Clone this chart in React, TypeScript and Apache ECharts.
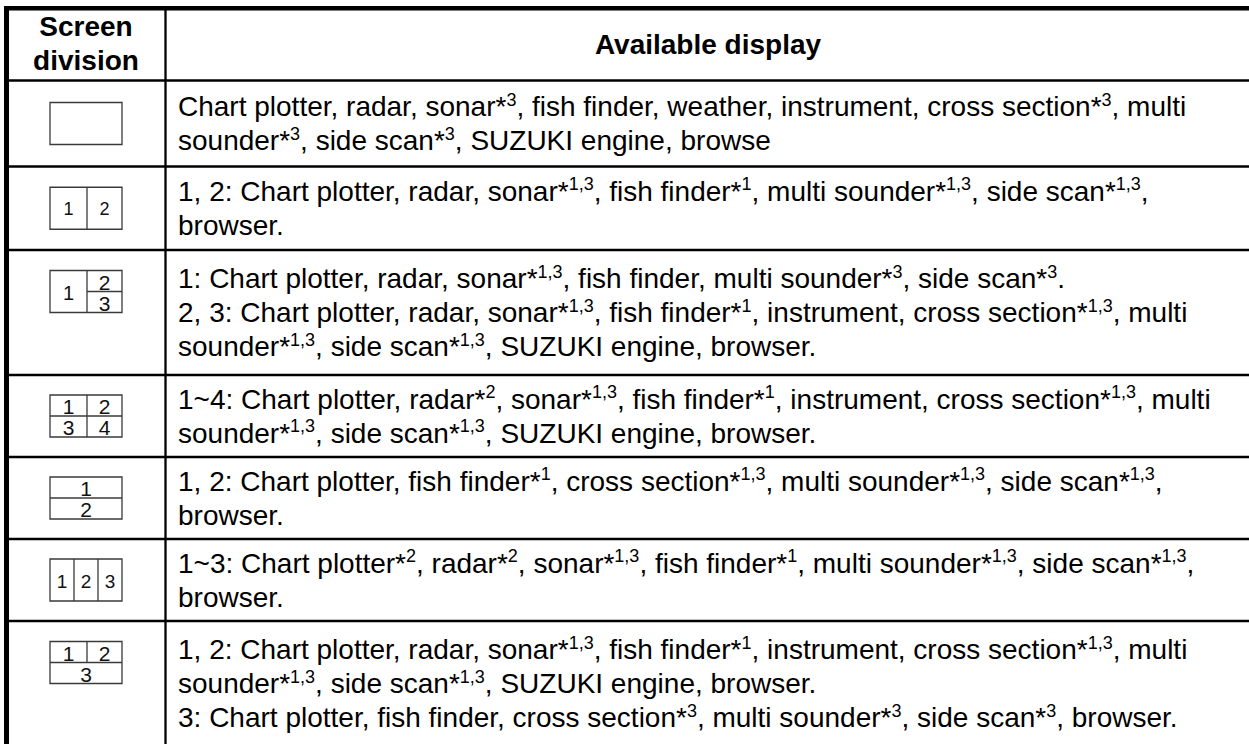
import React, { useEffect, useRef } from "react";
import * as echarts from "echarts";

const W = 1249;
const H = 744;

const headerLeft = ["Screen", "division"];
const headerRight = "Available display";

// {s|..} marks a superscript
const rowTexts: string[][] = [
  [
    "Chart plotter, radar, sonar*{s|3}, fish finder, weather, instrument, cross section*{s|3}, multi",
    "sounder*{s|3}, side scan*{s|3}, SUZUKI engine, browse",
  ],
  [
    "1, 2: Chart plotter, radar, sonar*{s|1,3}, fish finder*{s|1}, multi sounder*{s|1,3}, side scan*{s|1,3},",
    "browser.",
  ],
  [
    "1: Chart plotter, radar, sonar*{s|1,3}, fish finder, multi sounder*{s|3}, side scan*{s|3}.",
    "2, 3: Chart plotter, radar, sonar*{s|1,3}, fish finder*{s|1}, instrument, cross section*{s|1,3}, multi",
    "sounder*{s|1,3}, side scan*{s|1,3}, SUZUKI engine, browser.",
  ],
  [
    "1~4: Chart plotter, radar*{s|2}, sonar*{s|1,3}, fish finder*{s|1}, instrument, cross section*{s|1,3}, multi",
    "sounder*{s|1,3}, side scan*{s|1,3}, SUZUKI engine, browser.",
  ],
  [
    "1, 2: Chart plotter, fish finder*{s|1}, cross section*{s|1,3}, multi sounder*{s|1,3}, side scan*{s|1,3},",
    "browser.",
  ],
  [
    "1~3: Chart plotter*{s|2}, radar*{s|2}, sonar*{s|1,3}, fish finder*{s|1}, multi sounder*{s|1,3}, side scan*{s|1,3},",
    "browser.",
  ],
  [
    "1, 2: Chart plotter, radar, sonar*{s|1,3}, fish finder*{s|1}, instrument, cross section*{s|1,3}, multi",
    "sounder*{s|1,3}, side scan*{s|1,3}, SUZUKI engine, browser.",
    "3: Chart plotter, fish finder, cross section*{s|3}, multi sounder*{s|3}, side scan*{s|3}, browser.",
  ],
];

const rowIcons = ["single", "h2", "l1r2", "quad", "v2", "h3", "t2b1"];

// layout (pixels)
const ROW_HEIGHTS = [86, 83.5, 125, 82, 82, 82, 125];
const FONT = "'Liberation Sans', Arial, sans-serif";
const FS = 28;
const SUP = 18;
const PITCH = 34;
const HEADER_BOTTOM = 80.5;
const COL_X = 165.5;
const TEXT_X = 178;
const ICON_CX = 86;
const ICON_W = 72;
const ICON_H = 42;
const ICON_DIV_X = 87;

function iconElements(kind: string, cy: number): any[] {
  const x0 = ICON_CX - ICON_W / 2;
  const y0 = cy - ICON_H / 2;
  const x1 = x0 + ICON_W;
  const y1 = y0 + ICON_H;
  const ym = cy;
  const stroke = { stroke: "#3a3a3a", lineWidth: 1.3 };
  const els: any[] = [
    { type: "rect", shape: { x: x0, y: y0, width: ICON_W, height: ICON_H }, style: { fill: "#fff", ...stroke } },
  ];
  const ln = (ax: number, ay: number, bx: number, by: number) =>
    els.push({ type: "line", shape: { x1: ax, y1: ay, x2: bx, y2: by }, style: { ...stroke } });
  const num = (t: string, x: number, y: number, size: number) =>
    els.push({
      type: "text",
      style: { text: t, x, y, align: "center", verticalAlign: "middle", fontSize: size, fontFamily: FONT, fill: "#111" },
    });
  if (kind === "h2") {
    ln(ICON_DIV_X, y0, ICON_DIV_X, y1);
    num("1", (x0 + ICON_DIV_X) / 2, cy + 1, 18);
    num("2", (ICON_DIV_X + x1) / 2, cy + 1, 18);
  } else if (kind === "l1r2") {
    ln(ICON_DIV_X, y0, ICON_DIV_X, y1);
    ln(ICON_DIV_X, ym, x1, ym);
    num("1", (x0 + ICON_DIV_X) / 2, cy + 1, 20);
    num("2", (ICON_DIV_X + x1) / 2, (y0 + ym) / 2 + 1, 21);
    num("3", (ICON_DIV_X + x1) / 2, (ym + y1) / 2 + 1, 21);
  } else if (kind === "quad") {
    ln(ICON_DIV_X, y0, ICON_DIV_X, y1);
    ln(x0, ym, x1, ym);
    num("1", (x0 + ICON_DIV_X) / 2, (y0 + ym) / 2 + 1, 21);
    num("2", (ICON_DIV_X + x1) / 2, (y0 + ym) / 2 + 1, 21);
    num("3", (x0 + ICON_DIV_X) / 2, (ym + y1) / 2 + 1, 21);
    num("4", (ICON_DIV_X + x1) / 2, (ym + y1) / 2 + 1, 21);
  } else if (kind === "v2") {
    ln(x0, ym, x1, ym);
    num("1", ICON_CX, (y0 + ym) / 2 + 1, 21);
    num("2", ICON_CX, (ym + y1) / 2 + 1, 21);
  } else if (kind === "h3") {
    const a = x0 + ICON_W / 3;
    const b = x0 + (2 * ICON_W) / 3;
    ln(a, y0, a, y1);
    ln(b, y0, b, y1);
    num("1", (x0 + a) / 2, cy + 1, 19);
    num("2", (a + b) / 2, cy + 1, 19);
    num("3", (b + x1) / 2, cy + 1, 19);
  } else if (kind === "t2b1") {
    ln(ICON_DIV_X, y0, ICON_DIV_X, ym);
    ln(x0, ym, x1, ym);
    num("1", (x0 + ICON_DIV_X) / 2, (y0 + ym) / 2 + 1, 21);
    num("2", (ICON_DIV_X + x1) / 2, (y0 + ym) / 2 + 1, 21);
    num("3", ICON_CX, (ym + y1) / 2 + 1, 21);
  }
  return els;
}

function buildGraphic(): any[] {
  const els: any[] = [];
  els.push({ type: "rect", shape: { x: 0, y: 0, width: W, height: H }, style: { fill: "#fff" } });

  const bold = { align: "center", verticalAlign: "middle", fontSize: FS, fontWeight: "bold", fontFamily: FONT, fill: "#000" };
  els.push({ type: "text", style: { text: headerLeft[0], x: 86, y: 26, ...bold } });
  els.push({ type: "text", style: { text: headerLeft[1], x: 86, y: 60, ...bold } });
  els.push({ type: "text", style: { text: headerRight, x: 708, y: 44, ...bold } });

  let top = HEADER_BOTTOM;
  const hLines: number[] = [HEADER_BOTTOM];
  rowTexts.forEach((lines, i) => {
    const h = ROW_HEIGHTS[i];
    const mid = top + h / 2;
    const first = mid - ((lines.length - 1) * PITCH) / 2;
    lines.forEach((t, j) => {
      els.push({
        type: "text",
        style: {
          text: t,
          x: TEXT_X,
          y: first + j * PITCH,
          align: "left",
          verticalAlign: "middle",
          fontSize: FS,
          fontFamily: FONT,
          fill: "#000",
          lineHeight: 32,
          rich: {
            s: { fontSize: SUP, fontFamily: FONT, fill: "#000", lineHeight: 18, verticalAlign: "top" },
          },
        },
      });
    });
    const iconCy = lines.length > 2 ? first + PITCH / 2 - 4 : mid;
    iconElements(rowIcons[i], iconCy).forEach((e) => els.push(e));
    top += h;
    hLines.push(top);
  });

  hLines.forEach((y) => {
    if (y < H - 1) {
      els.push({ type: "line", shape: { x1: 9, y1: y, x2: W, y2: y }, style: { stroke: "#000", lineWidth: 2.5 } });
    }
  });
  els.push({ type: "line", shape: { x1: COL_X, y1: 8, x2: COL_X, y2: H }, style: { stroke: "#000", lineWidth: 2.3 } });
  els.push({ type: "rect", shape: { x: 4, y: 6, width: W - 4, height: 4.5 }, style: { fill: "#000" } });
  els.push({ type: "rect", shape: { x: 4, y: 6, width: 5, height: H - 6 }, style: { fill: "#000" } });
  return els;
}

export default function App() {
  const ref = useRef<HTMLDivElement>(null);
  useEffect(() => {
    document.body.style.margin = "0";
    const chart = echarts.init(ref.current!, undefined, { renderer: "svg" });
    chart.setOption({
      animation: false,
      backgroundColor: "#fff",
      graphic: { elements: buildGraphic() },
    });
    return () => chart.dispose();
  }, []);
  return <div ref={ref} style={{ position: "fixed", left: 0, top: 0, width: W, height: H }} />;
}
